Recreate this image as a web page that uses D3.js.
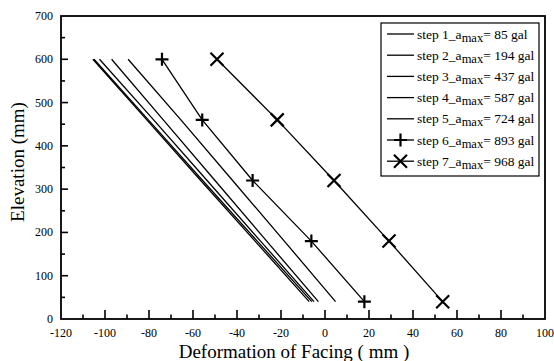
<!DOCTYPE html>
<html>
<head>
<meta charset="utf-8">
<script src="https://cdn.jsdelivr.net/npm/d3@7/dist/d3.min.js"></script>
<style>
  html, body { margin: 0; padding: 0; background: #fff; }
  svg { display: block; }
  svg text { font-family: "Liberation Serif", "Times New Roman", Times, serif; }
</style>
</head>
<body>
<svg id="chart" width="554" height="361"></svg>
<script>
// elevations where facing deformation was measured (mm)
const elevations = [40, 180, 320, 460, 600];

// deformation of facing (mm) per step, bottom to top
const step1 = [-7.2, -31.8, -56.5, -81.0, -105.5];
const step2 = [-6.0, -30.8, -55.6, -80.3, -105.0];
const step3 = [-5.0, -29.3, -53.6, -77.9, -102.5];
const step4 = [-3.0, -26.5, -50.0, -73.5, -97.0];
const step5 = [4.8, -18.5, -42.0, -65.5, -89.5];
const step6 = [17.9, -6.2, -32.9, -55.8, -74.1];
const step7 = [53.5, 29.1, 4.1, -21.7, -49.1];

const stepNames = ['step 1', 'step 2', 'step 3', 'step 4', 'step 5', 'step 6', 'step 7'];
const amax = ['85', '194', '437', '587', '724', '893', '968'];
const markers = ['none', 'none', 'none', 'none', 'none', 'plus', 'x'];
const seriesValues = [step1, step2, step3, step4, step5, step6, step7];

const xTicks = [-120, -100, -80, -60, -40, -20, 0, 20, 40, 60, 80, 100];
const yTicks = [0, 100, 200, 300, 400, 500, 600, 700];

const margin = { left: 61, right: 9, top: 16, bottom: 42 };
const W = 554, H = 361;

const svg = d3.select('#chart');
const x = d3.scaleLinear().domain([-120, 100]).range([margin.left, W - margin.right]);
const y = d3.scaleLinear().domain([0, 700]).range([H - margin.bottom, margin.top]);

const series = seriesValues.map((vals, i) => ({
  name: stepNames[i],
  amax: amax[i],
  marker: markers[i],
  points: vals.map((v, j) => ({ x: v, y: elevations[j] })),
}));

// ticks (inward, major + minor)
const gTicks = svg.append('g').attr('stroke', '#000').attr('stroke-width', 1.6);
d3.range(-110, 100, 10).forEach(v => {
  const major = v % 20 === 0;
  gTicks.append('line')
    .attr('x1', x(v)).attr('x2', x(v))
    .attr('y1', y(0)).attr('y2', y(0) - (major ? 9 : 4.5));
});
d3.range(50, 700, 50).forEach(v => {
  const major = v % 100 === 0;
  gTicks.append('line')
    .attr('x1', x(-120)).attr('x2', x(-120) + (major ? 7 : 4))
    .attr('y1', y(v)).attr('y2', y(v));
});

// tick labels
svg.append('g').selectAll('text').data(xTicks).join('text')
  .attr('x', d => x(d)).attr('y', y(0) + 18)
  .attr('text-anchor', 'middle')
  .style('font-size', '12px')
  .text(d => d);

svg.append('g').selectAll('text').data(yTicks).join('text')
  .attr('x', x(-120) - 8).attr('y', d => y(d) + 4)
  .attr('text-anchor', 'end')
  .style('font-size', '12px')
  .text(d => d);

// axis titles
svg.append('text')
  .attr('x', 294).attr('y', 358)
  .attr('text-anchor', 'middle')
  .style('font-size', '19px')
  .text('Deformation of Facing ( mm )');

svg.append('text')
  .attr('transform', 'translate(24,162) rotate(-90)')
  .attr('text-anchor', 'middle')
  .style('font-size', '19px')
  .text('Elevation (mm)');

// lines
const line = d3.line().x(d => x(d.x)).y(d => y(d.y));
svg.append('g').selectAll('path').data(series).join('path')
  .attr('d', d => line(d.points))
  .attr('fill', 'none')
  .attr('stroke', '#000')
  .attr('stroke-width', 1.3);

// markers
function markerPath(type, cx, cy) {
  if (type === 'plus') {
    const r = 6.5;
    return `M${cx - r},${cy}H${cx + r}M${cx},${cy - r}V${cy + r}`;
  }
  if (type === 'x') {
    const r = 6.5;
    return `M${cx - r},${cy - r}L${cx + r},${cy + r}M${cx - r},${cy + r}L${cx + r},${cy - r}`;
  }
  return '';
}
series.filter(s => s.marker !== 'none').forEach(s => {
  svg.append('g').selectAll('path').data(s.points).join('path')
    .attr('d', d => markerPath(s.marker, x(d.x), y(d.y)))
    .attr('fill', 'none')
    .attr('stroke', '#000')
    .attr('stroke-width', 2.2);
});

// frame
svg.append('rect')
  .attr('x', x(-120)).attr('y', y(700))
  .attr('width', x(100) - x(-120)).attr('height', y(0) - y(700))
  .attr('fill', 'none').attr('stroke', '#000').attr('stroke-width', 1.8);

// legend
const lg = svg.append('g');
lg.append('rect')
  .attr('x', 381).attr('y', 23).attr('width', 158).attr('height', 153)
  .attr('fill', '#fff').attr('stroke', '#000').attr('stroke-width', 1.2);

series.forEach((s, i) => {
  const cy = 34 + i * 21.2;
  lg.append('line')
    .attr('x1', 387).attr('x2', 414).attr('y1', cy).attr('y2', cy)
    .attr('stroke', '#000').attr('stroke-width', 1.3);
  if (s.marker !== 'none') {
    lg.append('path')
      .attr('d', markerPath(s.marker, 400.5, cy))
      .attr('fill', 'none').attr('stroke', '#000').attr('stroke-width', 2.2);
  }
  const t = lg.append('text')
    .attr('x', 417).attr('y', cy + 4.5)
    .style('font-size', '13.5px');
  t.append('tspan').text(s.name + '_a');
  t.append('tspan').attr('dy', 3).style('font-size', '12.5px').text('max');
  t.append('tspan').attr('dy', -3).text('= ' + s.amax + ' gal');
});
</script>
</body>
</html>
